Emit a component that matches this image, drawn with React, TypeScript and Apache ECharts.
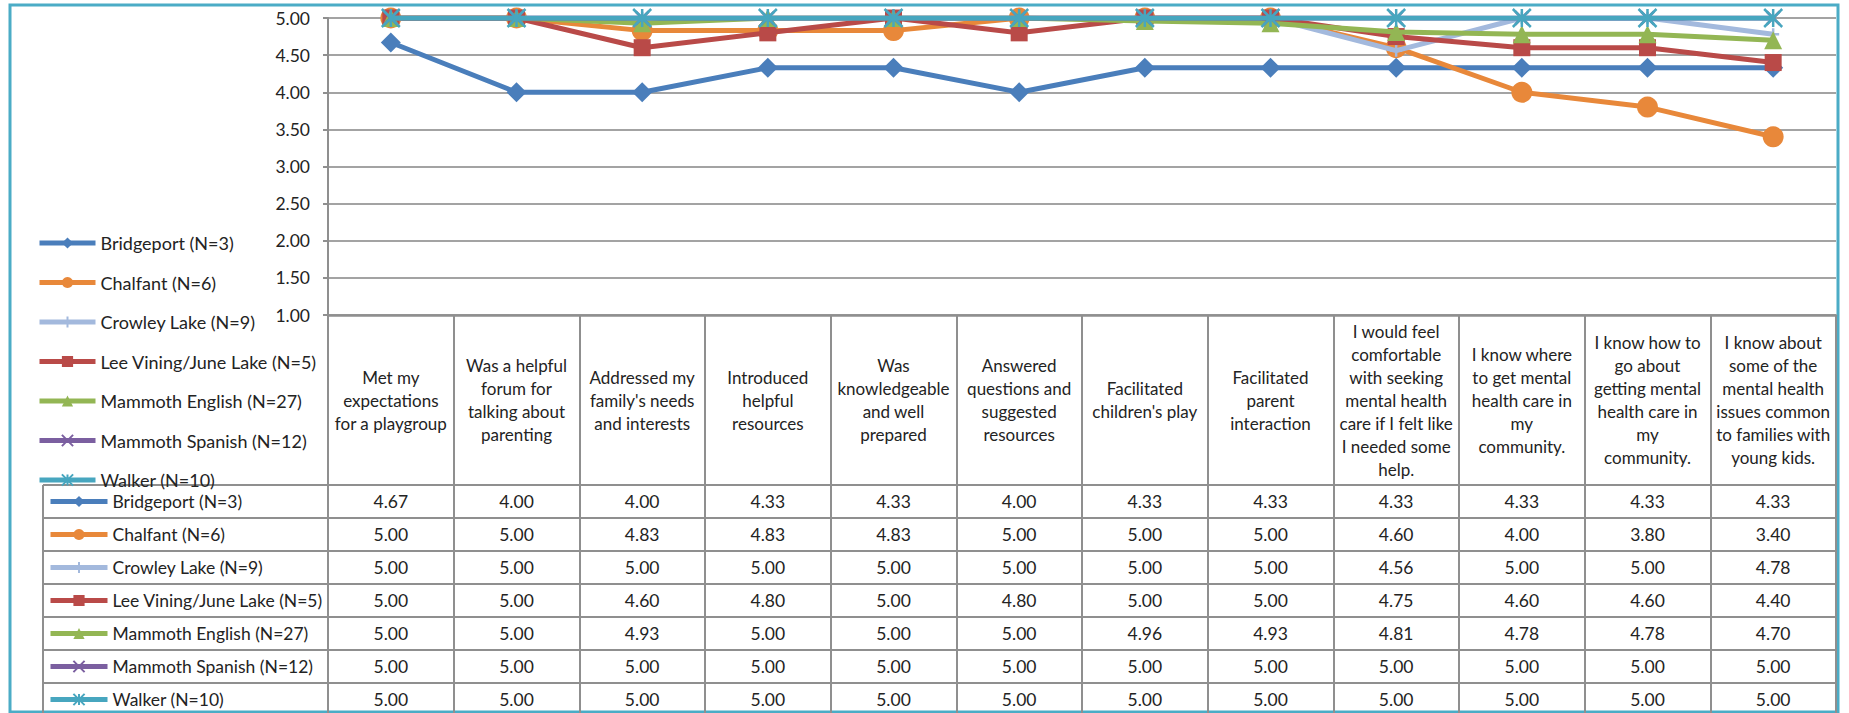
import React, { useEffect, useRef } from "react";
import * as echarts from "echarts";

const CATEGORIES = [
  "Met my\nexpectations\nfor a playgroup",
  "Was a helpful\nforum for\ntalking about\nparenting",
  "Addressed my\nfamily's needs\nand interests",
  "Introduced\nhelpful\nresources",
  "Was\nknowledgeable\nand well\nprepared",
  "Answered\nquestions and\nsuggested\nresources",
  "Facilitated\nchildren's play",
  "Facilitated\nparent\ninteraction",
  "I would feel\ncomfortable\nwith seeking\nmental health\ncare if I felt like\nI needed some\nhelp.",
  "I know where\nto get mental\nhealth care in\nmy\ncommunity.",
  "I know how to\ngo about\ngetting mental\nhealth care in\nmy\ncommunity.",
  "I know about\nsome of the\nmental health\nissues common\nto families with\nyoung kids.",
];

const SERIES_NAMES = [
  "Bridgeport (N=3)",
  "Chalfant (N=6)",
  "Crowley Lake (N=9)",
  "Lee Vining/June Lake (N=5)",
  "Mammoth English (N=27)",
  "Mammoth Spanish (N=12)",
  "Walker (N=10)",
];

const BRIDGEPORT = [4.67, 4.0, 4.0, 4.33, 4.33, 4.0, 4.33, 4.33, 4.33, 4.33, 4.33, 4.33];
const CHALFANT = [5.0, 5.0, 4.83, 4.83, 4.83, 5.0, 5.0, 5.0, 4.6, 4.0, 3.8, 3.4];
const CROWLEY_LAKE = [5.0, 5.0, 5.0, 5.0, 5.0, 5.0, 5.0, 5.0, 4.56, 5.0, 5.0, 4.78];
const LEE_VINING = [5.0, 5.0, 4.6, 4.8, 5.0, 4.8, 5.0, 5.0, 4.75, 4.6, 4.6, 4.4];
const MAMMOTH_ENGLISH = [5.0, 5.0, 4.93, 5.0, 5.0, 5.0, 4.96, 4.93, 4.81, 4.78, 4.78, 4.7];
const MAMMOTH_SPANISH = [5.0, 5.0, 5.0, 5.0, 5.0, 5.0, 5.0, 5.0, 5.0, 5.0, 5.0, 5.0];
const WALKER = [5.0, 5.0, 5.0, 5.0, 5.0, 5.0, 5.0, 5.0, 5.0, 5.0, 5.0, 5.0];

const SERIES_VALUES = [BRIDGEPORT, CHALFANT, CROWLEY_LAKE, LEE_VINING, MAMMOTH_ENGLISH, MAMMOTH_SPANISH, WALKER];

const Y_MIN = 1;
const Y_MAX = 5;
const Y_STEP = 0.5;

const COLORS = ["#4a7ebb", "#e8883a", "#a3b9dd", "#b94a48", "#93b654", "#7b5fa0", "#47a6bf"];
const SYMBOLS = [
  "diamond",
  "circle",
  "path://M5,0L5,10M0,5L10,5",
  "rect",
  "triangle",
  "path://M0,0L10,10M10,0L0,10",
  "path://M0,0L10,10M10,0L0,10M5,0L5,10",
];
const SYMBOL_SIZES = [20, 21, 12, 17, 18, 13, 18];
const STROKED = [false, false, true, false, false, true, true];

// layout
const W = 1849;
const H = 713;
const PLOT_L = 328;
const PLOT_R = 1836;
const PLOT_T = 18;
const PLOT_B = 315;
const HEADER_H = 170;
const ROW_H = 33;
const TABLE_L = 43;
const FONT = 'Lato, "Noto Sans", sans-serif';
const TEXT = "#232323";
const GRID_GRAY = "#a3a3a3";
const TABLE_GRAY = "#8f8f8f";

export default function App() {
  const ref = useRef<HTMLDivElement>(null);

  useEffect(() => {
    if (!ref.current) return;
    const chart = echarts.init(ref.current, undefined, { renderer: "svg" });

    const series = SERIES_NAMES.map((name, i) => ({
      type: "line",
      name,
      data: SERIES_VALUES[i],
      symbol: SYMBOLS[i],
      symbolSize: SYMBOL_SIZES[i],
      lineStyle: { width: 5, color: COLORS[i] },
      itemStyle: {
        color: COLORS[i],
        borderColor: COLORS[i],
        borderWidth: STROKED[i] ? 2.5 : 0,
      },
      z: 2 + i,
      emphasis: { disabled: true },
    }));

    const tableAxes = SERIES_VALUES.map((vals, i) => ({
      type: "category",
      gridIndex: 0,
      position: "bottom",
      offset: HEADER_H + i * ROW_H,
      data: CATEGORIES,
      axisLine: { show: false },
      axisTick: { show: false },
      splitLine: { show: false },
      axisLabel: {
        interval: 0,
        margin: ROW_H / 2,
        verticalAlign: "middle",
        fontFamily: FONT,
        fontSize: 17.5,
        color: TEXT,
        formatter: (_v: string, idx: number) => vals[idx].toFixed(2),
      },
    }));

    const graphics: any[] = [];
    for (let i = 0; i < SERIES_VALUES.length + 1; i++) {
      const y = PLOT_B + HEADER_H + i * ROW_H;
      graphics.push({
        type: "line",
        shape: { x1: TABLE_L, y1: y, x2: PLOT_R, y2: y },
        style: { stroke: TABLE_GRAY, lineWidth: 2 },
        z: 1,
      });
    }
    graphics.push({
      type: "line",
      shape: { x1: TABLE_L, y1: PLOT_B + HEADER_H, x2: TABLE_L, y2: H + 10 },
      style: { stroke: TABLE_GRAY, lineWidth: 2 },
      z: 1,
    });
    graphics.push({
      type: "rect",
      shape: { x: 10, y: 5, width: 1828, height: 707 },
      style: { fill: "none", stroke: "#4bacc6", lineWidth: 3 },
      z: 0,
    });

    const legendText = { fontFamily: FONT, fontSize: 18, lineHeight: 20, color: TEXT };
    const tableLegendText = { fontFamily: FONT, fontSize: 17.5, lineHeight: 20, color: TEXT };

    chart.setOption({
      animation: false,
      backgroundColor: "#ffffff",
      grid: {
        left: PLOT_L,
        right: W - PLOT_R,
        top: PLOT_T,
        bottom: H - PLOT_B,
        containLabel: false,
      },
      legend: [
        {
          orient: "vertical",
          left: 37,
          top: 233,
          padding: 0,
          itemWidth: 56,
          itemHeight: 14,
          itemGap: 19.5,
          data: SERIES_NAMES,
          selectedMode: false,
          lineStyle: { width: 5 },
          textStyle: legendText,
        },
        {
          orient: "vertical",
          left: 48,
          top: PLOT_B + HEADER_H + ROW_H / 2 - 10,
          padding: 0,
          itemWidth: 57,
          itemHeight: 14,
          itemGap: ROW_H - 20,
          data: SERIES_NAMES,
          selectedMode: false,
          lineStyle: { width: 5 },
          textStyle: tableLegendText,
        },
      ],
      xAxis: [
        {
          type: "category",
          gridIndex: 0,
          position: "bottom",
          data: CATEGORIES,
          boundaryGap: true,
          axisLine: { show: true, lineStyle: { color: TABLE_GRAY, width: 2.5 } },
          axisTick: {
            show: true,
            interval: 0,
            inside: false,
            length: H - PLOT_B + 10,
            lineStyle: { color: TABLE_GRAY, width: 2 },
          },
          splitLine: { show: false },
          axisLabel: {
            interval: 0,
            margin: HEADER_H / 2,
            verticalAlign: "middle",
            align: "center",
            fontFamily: FONT,
            fontSize: 17,
            lineHeight: 23,
            color: TEXT,
          },
        },
        ...tableAxes,
      ],
      yAxis: {
        type: "value",
        min: Y_MIN,
        max: Y_MAX,
        interval: Y_STEP,
        axisLine: { show: true, lineStyle: { color: TABLE_GRAY, width: 2 } },
        axisTick: { show: true, inside: false, length: 5, lineStyle: { color: TABLE_GRAY, width: 2 } },
        splitLine: { show: true, lineStyle: { color: GRID_GRAY, width: 2 } },
        axisLabel: {
          margin: 18,
          fontFamily: FONT,
          fontSize: 17.5,
          color: TEXT,
          formatter: (v: number) => v.toFixed(2),
        },
      },
      graphic: graphics,
      series,
    });

    return () => chart.dispose();
  }, []);

  return (
    <div
      ref={ref}
      style={{ position: "fixed", left: 0, top: 0, width: W, height: H, background: "#fff" }}
    />
  );
}
